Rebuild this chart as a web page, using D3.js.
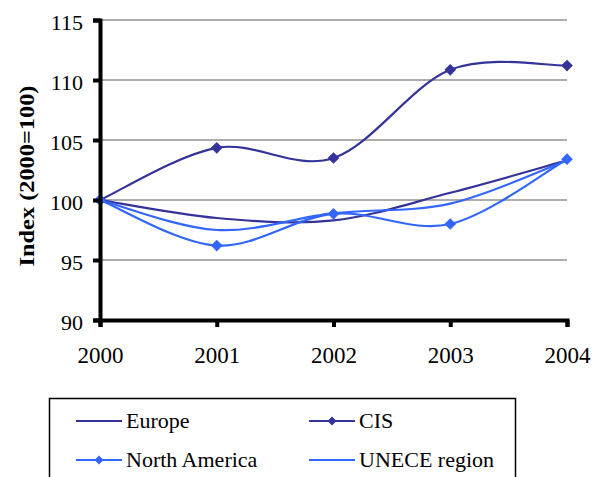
<!DOCTYPE html>
<html><head><meta charset="utf-8">
<script src="https://cdn.jsdelivr.net/npm/d3@7"></script>
<style>body{margin:0;background:#fff}svg{display:block}svg text{font-family:"Liberation Serif",serif !important}</style>
</head><body>
<script>
const years = [2000, 2001, 2002, 2003, 2004];
const europe = [100, 98.5, 98.3, 100.6, 103.3];
const cis = [100, 104.35, 103.5, 110.85, 111.2];
const northAmerica = [100, 96.2, 98.85, 98.0, 103.4];
const unece = [100, 97.5, 98.9, 99.7, 103.3];
const yTicks = [90, 95, 100, 105, 110, 115];
const seriesNames = ["Europe", "CIS", "North America", "UNECE region"];

const W = 600, H = 477;
const svg = d3.select("body").append("svg").attr("width", W).attr("height", H);
const x = d3.scaleLinear().domain([2000, 2004]).range([100, 567]);
const y = d3.scaleLinear().domain([90, 115]).range([320, 20]);

const series = [
  {name: seriesNames[0], values: europe, color: "#333399", marker: false},
  {name: seriesNames[1], values: cis, color: "#333399", marker: true},
  {name: seriesNames[2], values: northAmerica, color: "#3366FF", marker: true},
  {name: seriesNames[3], values: unece, color: "#3366FF", marker: false}
];

// gridlines
svg.append("g").selectAll("line").data(yTicks.slice(1)).join("line")
  .attr("x1", x(2000)).attr("x2", x(2004))
  .attr("y1", d => y(d)).attr("y2", d => y(d))
  .attr("stroke", "#5a5a5a").attr("stroke-width", 1);

// Excel-style smoothed line: cubic Bezier, control points from neighbours / 6
function smoothPath(vals) {
  const p = vals.map((v, i) => [x(years[i]), y(v)]);
  const path = d3.path();
  path.moveTo(p[0][0], p[0][1]);
  for (let i = 0; i < p.length - 1; i++) {
    const a = p[Math.max(i - 1, 0)], b = p[i], c = p[i + 1], d = p[Math.min(i + 2, p.length - 1)];
    path.bezierCurveTo(
      b[0] + (c[0] - a[0]) / 6, b[1] + (c[1] - a[1]) / 6,
      c[0] - (d[0] - b[0]) / 6, c[1] - (d[1] - b[1]) / 6,
      c[0], c[1]);
  }
  return path.toString();
}
const diamond = d3.symbol().type(d3.symbolSquare).size(68);
const diamondSmall = d3.symbol().type(d3.symbolSquare).size(40);

series.forEach(s => {
  svg.append("path").attr("d", smoothPath(s.values))
    .attr("fill", "none").attr("stroke", s.color).attr("stroke-width", 2.2);
});
series.forEach(s => {
  if (s.marker) {
    svg.append("g").selectAll("path").data(s.values).join("path")
      .attr("d", diamond)
      .attr("transform", (d, i) => `translate(${x(years[i])},${y(d)}) rotate(45)`)
      .attr("fill", s.color);
  }
});

// axes
const yAxis = d3.axisLeft(y).tickValues(yTicks).tickSize(7).tickPadding(10).tickFormat(d3.format("d"));
const gy = svg.append("g").attr("transform", `translate(${x(2000)},0)`).call(yAxis);
gy.attr("font-family", null);
gy.select(".domain").attr("stroke", "#000").attr("stroke-width", 4);
gy.selectAll(".tick line").attr("stroke", "#000").attr("stroke-width", 4);
gy.selectAll(".tick text").attr("font-size", 22).attr("fill", "#000")
  .style("font-family", "'Liberation Serif', serif").attr("dy", "0.45em");

const xAxis = d3.axisBottom(x).tickValues(years).tickSize(7).tickPadding(20).tickFormat(d3.format("d"));
const gx = svg.append("g").attr("transform", `translate(0,${y(90)})`).call(xAxis);
gx.attr("font-family", null);
gx.select(".domain").attr("stroke", "#000").attr("stroke-width", 4);
gx.selectAll(".tick line").attr("stroke", "#000").attr("stroke-width", 4);
gx.selectAll(".tick text").attr("font-size", 23).attr("fill", "#000")
  .style("font-family", "'Liberation Serif', serif");

svg.append("text").attr("transform", "translate(34,176) rotate(-90)")
  .attr("text-anchor", "middle").attr("font-size", 22).attr("font-weight", "bold")
  .attr("textLength", 181).attr("lengthAdjust", "spacingAndGlyphs")
  .text("Index (2000=100)");

// legend
const lg = svg.append("g");
lg.append("rect").attr("x", 49.5).attr("y", 398.5).attr("width", 466).attr("height", 100)
  .attr("fill", "none").attr("stroke", "#000").attr("stroke-width", 1.5);
const pos = [[76, 421], [309, 421], [76, 460], [309, 460]];
series.forEach((s, i) => {
  const [lx, ly] = pos[i];
  lg.append("line").attr("x1", lx).attr("x2", lx + 46).attr("y1", ly).attr("y2", ly)
    .attr("stroke", s.color).attr("stroke-width", 2.2);
  if (s.marker) lg.append("path").attr("d", diamondSmall)
    .attr("transform", `translate(${lx + 23},${ly}) rotate(45)`).attr("fill", s.color);
  lg.append("text").attr("x", lx + 50).attr("y", ly + 7).attr("font-size", 22).text(s.name);
});
</script>
</body></html>
